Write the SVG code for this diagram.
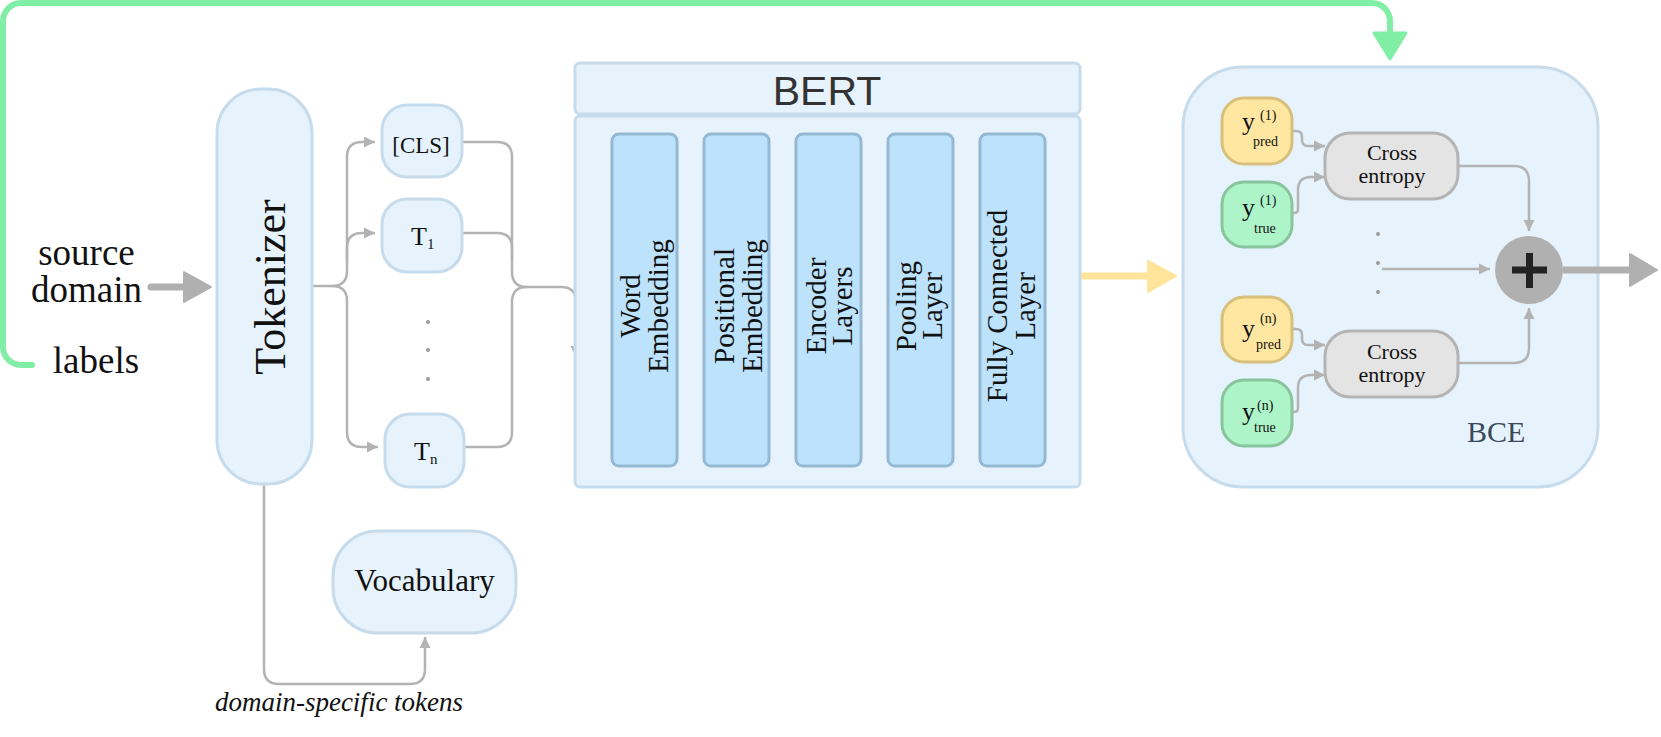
<svg xmlns="http://www.w3.org/2000/svg" width="1661" height="737" viewBox="0 0 1661 737">
<defs>
<style>
.box{fill:#e6f3fd;stroke:#c6dbec;stroke-width:3}
.col{fill:#bde2fb;stroke:#95b9d2;stroke-width:3}
.ypred{fill:#ffe7a1;stroke:#d8c07c;stroke-width:3}
.ytrue{fill:#adf4c8;stroke:#88c49c;stroke-width:3}
.ce{fill:#e4e4e4;stroke:#b4b4b4;stroke-width:3}
.con{fill:none;stroke:#b3b3b3;stroke-width:2.5}
.serif{font-family:"Liberation Serif","DejaVu Serif",serif;fill:#111}
.dot{fill:#9a9a9a}
</style>
<marker id="ah" markerUnits="userSpaceOnUse" markerWidth="12" markerHeight="12" refX="11" refY="6" orient="auto">
<path d="M0,0.5 L11,6 L0,11.5 z" fill="#b3b3b3"/>
</marker>
</defs>
<rect width="1661" height="737" fill="#ffffff"/>

<g id="connectors">
<path d="M32 365 H21 A18 18 0 0 1 3 347 V21 A18 18 0 0 1 21 3 H1372 A18 18 0 0 1 1390 21 V34" fill="none" stroke="#80eea5" stroke-width="6" stroke-linecap="round"/>
<polygon points="1374,33 1406,33 1390,59" fill="#80eea5" stroke="#80eea5" stroke-width="3" stroke-linejoin="round"/>
<line x1="151" y1="287" x2="186" y2="287" stroke="#b0b0b0" stroke-width="7" stroke-linecap="round"/>
<polygon points="184,272 184,302 211,287" fill="#b0b0b0" stroke="#b0b0b0" stroke-width="2" stroke-linejoin="round"/>
<path class="con" d="M312 286 H332 Q347 286 347 271 V157 Q347 142 362 142 H375" marker-end="url(#ah)"/>
<path class="con" d="M347 260 V248 Q347 233 362 233 H375" marker-end="url(#ah)"/>
<path class="con" d="M332 286 Q347 286 347 301 V432 Q347 447 362 447 H378" marker-end="url(#ah)"/>
<path class="con" d="M462 142 H497 Q512 142 512 157 V272 Q512 287 527 287 H561 Q576 287 576 302 V357" marker-end="url(#ah)"/>
<path class="con" d="M462 233 H497 Q512 233 512 248 V260"/>
<path class="con" d="M464 447 H497 Q512 447 512 432 V302 Q512 287 527 287"/>
<path class="con" d="M264 485 V669 Q264 684 279 684 H410 Q425 684 425 669 V637" marker-end="url(#ah)"/>
<line x1="1083" y1="276" x2="1150" y2="276" stroke="#ffe599" stroke-width="7" stroke-linecap="round"/>
<polygon points="1148,261 1148,292 1176,276" fill="#ffe599" stroke="#ffe599" stroke-width="2" stroke-linejoin="round"/>
</g>

<g id="tokenizer">
<rect class="box" x="217" y="89" width="95" height="395" rx="44"/>
<text class="serif" transform="translate(285,287) rotate(-90)" text-anchor="middle" font-size="44">Tokenizer</text>
</g>

<g id="source-text">
<text class="serif" x="86.5" y="265" text-anchor="middle" font-size="37">source</text>
<text class="serif" x="86.5" y="302" text-anchor="middle" font-size="37">domain</text>
<text class="serif" x="96" y="373" text-anchor="middle" font-size="37">labels</text>
</g>

<g id="token-cls">
<rect class="box" x="382" y="105" width="80" height="72" rx="25"/>
<text class="serif" x="421" y="153" text-anchor="middle" font-size="23">[CLS]</text>
</g>
<g id="token-t1">
<rect class="box" x="382" y="199" width="80" height="73" rx="25"/>
<text class="serif" x="411" y="245" font-size="26">T<tspan font-size="15" dy="4">1</tspan></text>
</g>
<g id="token-dots">
<circle class="dot" cx="428" cy="322" r="2"/>
<circle class="dot" cx="428" cy="350" r="2"/>
<circle class="dot" cx="428" cy="379" r="2"/>
</g>
<g id="token-tn">
<rect class="box" x="385" y="414" width="79" height="73" rx="25"/>
<text class="serif" x="414" y="460" font-size="26">T<tspan font-size="15" dy="4">n</tspan></text>
</g>

<g id="vocabulary">
<rect class="box" x="333" y="531" width="183" height="102" rx="45"/>
<text class="serif" x="424.5" y="591" text-anchor="middle" font-size="31">Vocabulary</text>
</g>
<text class="serif" x="339" y="711" text-anchor="middle" font-size="27" font-style="italic">domain-specific tokens</text>

<g id="bert">
<rect class="box" x="575" y="63" width="505" height="51" rx="5"/>
<rect class="box" x="575" y="116" width="505" height="371" rx="5"/>
<text x="827" y="105" text-anchor="middle" font-family="'Liberation Sans','DejaVu Sans',sans-serif" font-size="41" fill="#333">BERT</text>
</g>
<g id="word-embedding">
<rect class="col" x="612" y="134" width="65" height="332" rx="7"/>
<text class="serif" transform="translate(644.5,306) rotate(-90)" text-anchor="middle" font-size="29"><tspan x="0" y="-5">Word</tspan><tspan x="0" y="23">Embedding</tspan></text>
</g>
<g id="positional-embedding">
<rect class="col" x="704" y="134" width="65" height="332" rx="7"/>
<text class="serif" transform="translate(736.5,306) rotate(-90)" text-anchor="middle" font-size="29"><tspan x="0" y="-3">Positional</tspan><tspan x="0" y="25">Embedding</tspan></text>
</g>
<g id="encoder-layers">
<rect class="col" x="796" y="134" width="65" height="332" rx="7"/>
<text class="serif" transform="translate(828.5,306) rotate(-90)" text-anchor="middle" font-size="29"><tspan x="0" y="-3">Encoder</tspan><tspan x="0" y="23">Layers</tspan></text>
</g>
<g id="pooling-layer">
<rect class="col" x="888" y="134" width="65" height="332" rx="7"/>
<text class="serif" transform="translate(920.5,306) rotate(-90)" text-anchor="middle" font-size="29"><tspan x="0" y="-5">Pooling</tspan><tspan x="0" y="21">Layer</tspan></text>
</g>
<g id="fully-connected-layer">
<rect class="col" x="980" y="134" width="65" height="332" rx="7"/>
<text class="serif" transform="translate(1012.5,306) rotate(-90)" text-anchor="middle" font-size="29"><tspan x="0" y="-6">Fully Connected</tspan><tspan x="0" y="22">Layer</tspan></text>
</g>

<g id="bce">
<rect class="box" x="1183" y="67" width="415" height="420" rx="60"/>
<text x="1467" y="442" font-family="'Liberation Serif','DejaVu Serif',serif" font-size="30" fill="#3b4a5b">BCE</text>
</g>

<g id="bce-connectors">
<path class="con" d="M1292 131 H1296 Q1302 131 1302 137 V140 Q1302 146 1308 146 H1325" marker-end="url(#ah)"/>
<path class="con" d="M1292 213 H1294 Q1298 213 1298 209 V190 Q1298 177 1311 177 H1325" marker-end="url(#ah)"/>
<path class="con" d="M1292 329 H1296 Q1302 329 1302 335 V339 Q1302 345 1308 345 H1325" marker-end="url(#ah)"/>
<path class="con" d="M1292 412 H1294 Q1298 412 1298 408 V388 Q1298 375 1311 375 H1325" marker-end="url(#ah)"/>
<path class="con" d="M1458 166 H1514 Q1529 166 1529 181 V231" marker-end="url(#ah)"/>
<path class="con" d="M1458 363 H1514 Q1529 363 1529 348 V308" marker-end="url(#ah)"/>
<path class="con" d="M1382 269 H1490" marker-end="url(#ah)"/>
<line x1="1563" y1="270" x2="1632" y2="270" stroke="#b0b0b0" stroke-width="7"/>
<polygon points="1630,254 1630,286 1657,270" fill="#b0b0b0" stroke="#b0b0b0" stroke-width="2" stroke-linejoin="round"/>
</g>

<g id="y-pred-1">
<rect class="ypred" x="1222" y="98" width="70" height="66" rx="22"/>
<text class="serif" x="1242" y="130" font-size="26">y</text>
<text class="serif" x="1260" y="120" font-size="14">(1)</text>
<text class="serif" x="1253" y="146" font-size="14">pred</text>
</g>
<g id="y-true-1">
<rect class="ytrue" x="1222" y="182" width="70" height="65" rx="22"/>
<text class="serif" x="1242" y="216" font-size="26">y</text>
<text class="serif" x="1260" y="205" font-size="14">(1)</text>
<text class="serif" x="1254" y="233" font-size="14">true</text>
</g>
<g id="y-pred-n">
<rect class="ypred" x="1222" y="297" width="70" height="65" rx="22"/>
<text class="serif" x="1242" y="337" font-size="26">y</text>
<text class="serif" x="1260" y="323" font-size="14">(n)</text>
<text class="serif" x="1256" y="349" font-size="14">pred</text>
</g>
<g id="y-true-n">
<rect class="ytrue" x="1222" y="380" width="70" height="66" rx="22"/>
<text class="serif" x="1242" y="420" font-size="26">y</text>
<text class="serif" x="1257" y="410" font-size="14">(n)</text>
<text class="serif" x="1254" y="432" font-size="14">true</text>
</g>

<g id="cross-entropy-1">
<rect class="ce" x="1325" y="133" width="133" height="66" rx="25"/>
<text class="serif" text-anchor="middle" font-size="22" fill="#333"><tspan x="1392" y="160">Cross</tspan><tspan x="1392" y="183">entropy</tspan></text>
</g>
<g id="bce-dots">
<circle class="dot" cx="1378" cy="234" r="2"/>
<circle class="dot" cx="1378" cy="263" r="2"/>
<circle class="dot" cx="1378" cy="292" r="2"/>
</g>
<g id="cross-entropy-n">
<rect class="ce" x="1325" y="331" width="133" height="66" rx="25"/>
<text class="serif" text-anchor="middle" font-size="22" fill="#333"><tspan x="1392" y="359">Cross</tspan><tspan x="1392" y="382">entropy</tspan></text>
</g>

<g id="sum">
<circle cx="1529" cy="270" r="34" fill="#b0b0b0"/>
<rect x="1512" y="266.5" width="35" height="7" fill="#222"/>
<rect x="1526" y="253" width="7" height="35" fill="#222"/>
</g>
</svg>
